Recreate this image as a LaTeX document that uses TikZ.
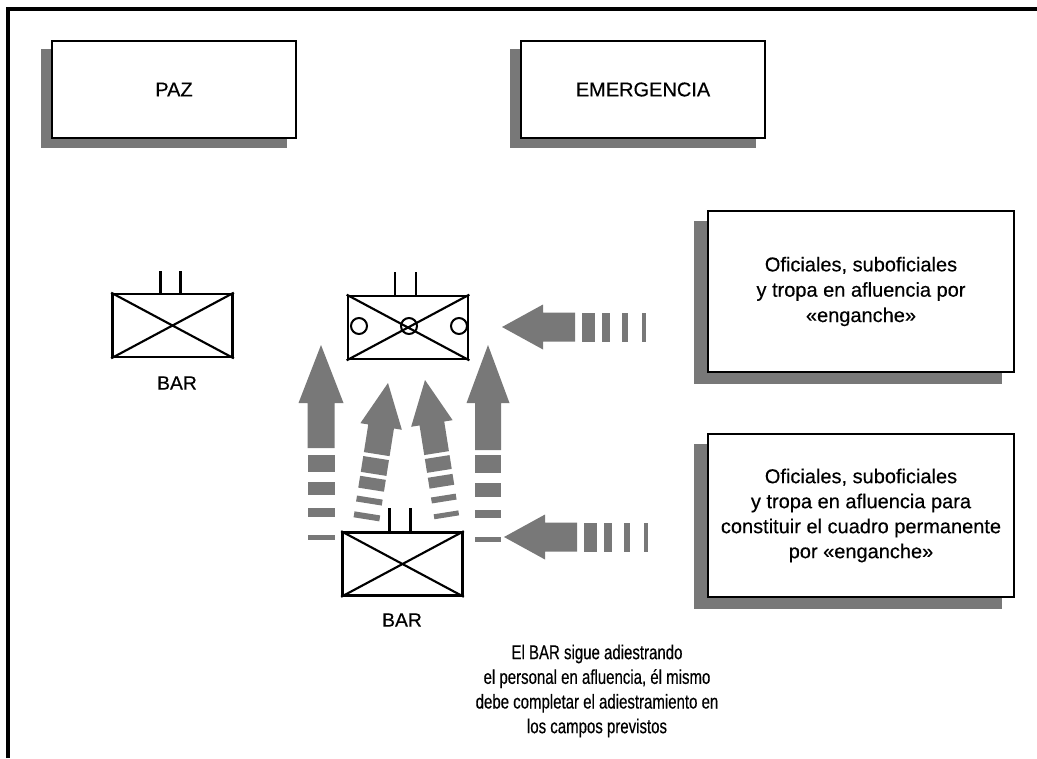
\documentclass[tikz,border=0pt]{standalone}
\usepackage{fontspec}
\setmainfont[FakeBold=0.4]{Liberation Sans}
\newfontfamily\narrowfont[FakeStretch=0.75,FakeBold=0.4]{Liberation Sans}
\usetikzlibrary{calc}
\pgfdeclarelayer{background}
\pgfsetlayers{background,main}
\definecolor{dith}{gray}{0.47}
\newcommand\blockarrow[8]{%
  \begin{scope}[shift={(#1,#2)},rotate=#3]
    \fill[dith] (0,0) -- (#4,#5) -- (#6,#5) -- (#6,#7) -- (-#6,#7) -- (-#6,#5) -- (-#4,#5) -- cycle;
    \foreach \a/\b in {#8} \fill[dith] (-#6,\a) rectangle (#6,\b);
  \end{scope}}
\tikzset{
  tbox/.style={draw, line width=1.6pt, fill=white, inner sep=0pt, align=center,
    font=\fontsize{15}{19}\selectfont},
  barbox/.style={draw, line width=2pt, fill=white, inner sep=0pt,
    minimum width=90pt, minimum height=47.25pt},
  barline/.style={line width=1.6pt},
  stem/.style={line width=1.6pt},
  ring/.style={circle, draw, line width=1.5pt, fill=white, inner sep=0pt, minimum size=12pt},
  lab/.style={font=\fontsize{14.5}{17}\selectfont, inner sep=0pt}
}
\begin{document}
\begin{tikzpicture}[x=0.75pt,y=-0.75pt]
\useasboundingbox (0,0) rectangle (1037,758);
% frame
\draw[line width=2.4pt] (8,758) -- (8,9) -- (1037,9);

% header boxes
\node[tbox, minimum width=183pt, minimum height=72.75pt] (paz) at (174,89.5) {PAZ};
\node[tbox, minimum width=183pt, minimum height=72.75pt] (emer) at (643,89.5) {EMERGENCIA};
% side boxes
\node[tbox, minimum width=229.5pt, minimum height=120.75pt] (of1) at (861,291.5)
  {Oficiales, suboficiales\\ y tropa en afluencia por\\ «enganche»};
\node[tbox, minimum width=229.5pt, minimum height=122.25pt, font=\fontsize{15}{18.75}\selectfont] (of2) at (861,515.5)
  {Oficiales, suboficiales\\ y tropa en afluencia para\\ constituir el cuadro permanente\\ por «enganche»};

\begin{pgfonlayer}{background}
  \fill[dith] ($(paz.north west)+(-10,9)$) rectangle ($(paz.south east)+(-10,9)$);
  \fill[dith] ($(emer.north west)+(-10,9)$) rectangle ($(emer.south east)+(-10,9)$);
  \fill[dith] ($(of1.north west)+(-13,11)$) rectangle ($(of1.south east)+(-13,11)$);
  \fill[dith] ($(of2.north west)+(-13,11)$) rectangle ($(of2.south east)+(-13,11)$);
\end{pgfonlayer}

% BAR symbols
\node[barbox] (bar1) at (172.5,325.5) {};
\draw[barline] (bar1.north west) -- (bar1.south east) (bar1.south west) -- (bar1.north east);
\draw[stem] ($(bar1.north)+(-12,0)$) -- ++(0,-22) ($(bar1.north)+(8,0)$) -- ++(0,-22);
\node[lab] (bar1lab) at (177,383) {BAR};

\node[barbox] (bar2) at (408,327.5) {};
\draw[barline] (bar2.north west) -- (bar2.south east) (bar2.south west) -- (bar2.north east);
\draw[stem] ($(bar2.north)+(-13,0)$) -- ++(0,-23) ($(bar2.north)+(8,0)$) -- ++(0,-23);
\node[ring] (c1) at (359,326) {};
\node[ring] (c2) at (459,326) {};
\node[ring, fill=none] (c3) at (409,326) {};

\node[barbox] (bar3) at (402.5,564) {};
\draw[barline] (bar3.north west) -- (bar3.south east) (bar3.south west) -- (bar3.north east);
\draw[stem] ($(bar3.north)+(-13,0)$) -- ++(0,-23) ($(bar3.north)+(8,0)$) -- ++(0,-23);
\node[lab] (bar3lab) at (402,620) {BAR};

% arrows
\blockarrow{321}{345}{0}{22.5}{58}{13.5}{103}{110/127,137/150,163/172,190/195}
\blockarrow{488}{345}{0}{21.5}{58}{13}{105}{110/128,138/152,165/173,192/197}
\blockarrow{388}{383}{-9}{21}{44}{13}{72}{76/92,96/108,116/122,132/138}
\blockarrow{425}{380}{9}{21}{44}{12.5}{74}{78/92,97/108,117/123,134/139}
\blockarrow{502}{327}{90}{22.5}{41}{14.5}{73}{80/93,100/108,120/126,140/144}
\blockarrow{504}{537}{90}{22.5}{41}{14.5}{73}{80/93,100/108,120/126,140/144}

% note
\node[font=\narrowfont\fontsize{15}{18.5}\selectfont, align=center, inner sep=0pt] (note) at (597,691)
  {El BAR sigue adiestrando\\ el personal en afluencia, él mismo\\ debe completar el adiestramiento en\\ los campos previstos};
\end{tikzpicture}
\end{document}
